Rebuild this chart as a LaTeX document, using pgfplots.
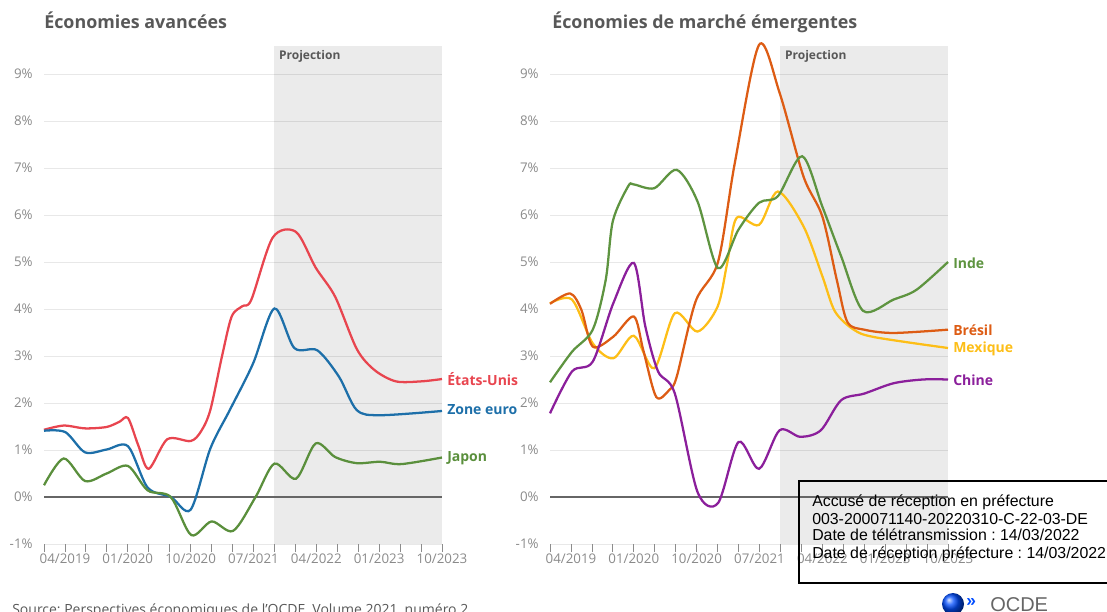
\documentclass[border=0pt]{standalone}
\usepackage{fontspec}
\setmainfont{Open Sans}
\newfontfamily\arial{Liberation Sans}
\usepackage{pgfplots}
\pgfplotsset{compat=1.18}

\definecolor{usred}{HTML}{E8454F}
\definecolor{eublue}{HTML}{1D6FA9}
\definecolor{jpgreen}{HTML}{5A8F3C}
\definecolor{ingreen}{HTML}{5E9440}
\definecolor{brorange}{HTML}{DD5C14}
\definecolor{mxyellow}{HTML}{FDBE17}
\definecolor{cnpurple}{HTML}{8B1F9B}
\definecolor{txtgray}{HTML}{585858}
\definecolor{tickgray}{HTML}{8A8A8A}

% 1 px of the reference = 0.75pt
\pgfplotsset{oecd/.style={
  scale only axis, width=298.5pt, height=373.65pt,
  xmin=0, xmax=19, ymin=-1, ymax=9.6,
  axis line style={draw=none},
  ytick={-1,0,...,9},
  yticklabel={\pgfmathprintnumber{\tick}\%},
  ymajorgrids, grid style={black!9, line width=0.6pt},
  xtick={0,...,19},
  xticklabels={,04/2019,,,01/2020,,,10/2020,,,07/2021,,,04/2022,,,01/2023,,,10/2023},
  xtick pos=bottom, ytick pos=left,
  tick align=outside, major tick length=6pt,
  xtick style={draw=black!45, line width=0.6pt},
  ytick style={draw=none},
  tick label style={font=\fontsize{10}{11}\selectfont, text=tickgray},
  yticklabel style={xshift=1pt},
  xticklabel style={yshift=2pt},
  /pgf/number format/assume math mode=true,
  clip=false,
  every axis plot/.append style={line width=1.7pt, smooth, tension=0.5, no markers},
}}

\begin{document}
\frenchspacing
\begin{tikzpicture}
\useasboundingbox (0,0) rectangle (830.25pt,458.25pt);

% ---------- left panel ----------
\begin{axis}[oecd, at={(33pt,50.25pt)}, anchor=south west]
\fill[black, opacity=0.08] (axis cs:11,-1) rectangle (axis cs:19,9.6);
\draw[black!60, line width=1pt] (axis cs:0,0) -- (axis cs:19,0);
\node[anchor=north west, text=txtgray, font=\fontsize{9}{10}\selectfont\bfseries] at (axis cs:11,9.6) {Projection};
\addplot[usred] coordinates {(0,1.43) (0.94,1.52) (1.96,1.46) (2.99,1.49) (3.6,1.6) (4.01,1.68) (4.5,1.1) (5.0,0.6) (5.89,1.23) (7.0,1.19) (7.5,1.4) (7.94,1.85) (8.5,3.0) (8.96,3.84) (9.47,4.06) (9.9,4.2) (10.92,5.52) (12.03,5.64) (12.97,4.88) (13.9,4.26) (14.93,3.15) (15.78,2.70) (16.8,2.46) (18.0,2.46) (19,2.51)};
\addplot[eublue] coordinates {(0,1.41) (1.02,1.38) (1.96,0.95) (2.99,1.01) (4.01,1.08) (4.95,0.2) (6.06,0.0) (7.0,-0.27) (7.94,1.03) (8.87,1.85) (9.98,2.84) (11.0,4.01) (11.95,3.17) (13.05,3.12) (14.08,2.56) (14.93,1.85) (16.04,1.74) (19,1.83)};
\addplot[jpgreen] coordinates {(0,0.25) (0.94,0.82) (1.96,0.34) (2.99,0.50) (4.01,0.66) (4.95,0.14) (6.05,0.0) (7.03,-0.81) (8.0,-0.52) (9.03,-0.72) (10.1,0.0) (11,0.71) (12.03,0.39) (12.97,1.14) (13.9,0.85) (14.93,0.72) (16.04,0.75) (17.06,0.70) (19,0.84)};
\end{axis}

% ---------- right panel ----------
\begin{axis}[oecd, at={(412.5pt,50.25pt)}, anchor=south west]
\fill[black, opacity=0.08] (axis cs:11,-1) rectangle (axis cs:19,9.6);
\draw[black!60, line width=1pt] (axis cs:0,0) -- (axis cs:19,0);
\node[anchor=north west, text=txtgray, font=\fontsize{9}{10}\selectfont\bfseries] at (axis cs:11,9.6) {Projection};
\addplot[mxyellow] coordinates {(0,4.12) (1.05,4.2) (2.04,3.27) (3.02,2.95) (4.0,3.43) (4.98,2.74) (5.96,3.91) (7.04,3.52) (8.0,4.05) (8.46,4.98) (8.91,5.94) (9.98,5.79) (10.88,6.5) (12.1,5.76) (13,4.7) (13.6,3.95) (14.5,3.56) (15.5,3.40) (19,3.17)};
\addplot[brorange] coordinates {(0,4.11) (0.96,4.33) (1.5,3.98) (2.04,3.20) (3.02,3.41) (4.0,3.84) (4.45,3.13) (5.07,2.13) (5.7,2.28) (6.05,2.56) (6.95,4.16) (8.02,5.0) (8.82,7.1) (9.98,9.62) (10.96,8.6) (12.1,6.82) (13.0,5.97) (13.7,4.6) (14.2,3.72) (15.0,3.56) (16.4,3.49) (19,3.56)};
\addplot[ingreen] coordinates {(0,2.44) (1.05,3.09) (2.04,3.56) (2.66,4.62) (3.0,5.87) (3.73,6.61) (4.0,6.65) (4.98,6.57) (6.05,6.96) (7.04,6.29) (8.02,4.87) (9.0,5.69) (9.98,6.26) (10.88,6.40) (12.04,7.25) (13.0,6.18) (13.9,5.12) (14.95,3.96) (16.4,4.20) (17.5,4.41) (19,5.0)};
\addplot[cnpurple] coordinates {(0,1.78) (1.05,2.67) (2.04,2.88) (3.02,4.12) (4.0,4.98) (4.55,3.63) (5.16,2.67) (5.96,2.2) (7.04,0.11) (8.02,-0.13) (9.0,1.17) (9.98,0.6) (10.96,1.42) (11.95,1.28) (12.93,1.42) (13.9,2.06) (15.0,2.2) (16.4,2.42) (17.8,2.5) (19,2.5)};
\end{axis}

\begin{scope}[x=0.75pt, y=0.75pt]
% titles
\node[anchor=base west, inner sep=0, text=txtgray, font=\fontsize{13.4}{15}\selectfont\bfseries] at (44,582) {Économies avancées};
\node[anchor=base west, inner sep=0, text=txtgray, font=\fontsize{13.4}{15}\selectfont\bfseries] at (552,582) {Économies de marché émergentes};
% series labels
\begin{scope}[font=\fontsize{10.5}{12}\selectfont\bfseries]
\node[anchor=west, inner sep=0, text=usred] at (447,232) {États-Unis};
\node[anchor=west, inner sep=0, text=eublue] at (447,201) {Zone euro};
\node[anchor=west, inner sep=0, text=jpgreen] at (447,153) {Japon};
\node[anchor=west, inner sep=0, text=ingreen] at (953,348) {Inde};
\node[anchor=west, inner sep=0, text=brorange] at (953,281) {Brésil};
\node[anchor=west, inner sep=0, text=mxyellow] at (953,262) {Mexique};
\node[anchor=west, inner sep=0, text=cnpurple] at (953,231) {Chine};
\end{scope}
% source
\node[anchor=base west, inner sep=0, text=txtgray, font=\fontsize{10.5}{12}\selectfont] at (12,-3) {Source: Perspectives économiques de l’OCDE, Volume 2021, numéro 2};
% stamp
\draw[black, line width=0.8pt] (799,130) rectangle (1114,28);
\begin{scope}[font=\arial\fontsize{11.9}{14}\selectfont]
\node[anchor=base west, inner sep=0] at (812,104) {Accusé de réception en préfecture};
\node[anchor=base west, inner sep=0] at (812,87) {003-200071140-20220310-C-22-03-DE};
\node[anchor=base west, inner sep=0] at (812,70) {Date de télétransmission : 14/03/2022};
\node[anchor=base west, inner sep=0] at (812,53) {Date de réception préfecture : 14/03/2022};
\end{scope}
% logo
\shade[ball color=blue!70!cyan] (953,7) circle (11);
\node[anchor=west, inner sep=0, text=blue!70!cyan, font=\arial\fontsize{13}{14}\selectfont\bfseries] at (966,8) {»};
\node[anchor=base west, inner sep=0, text=black!60, font=\arial\fontsize{15}{16}\selectfont] at (990,0) {OCDE};
\end{scope}
\end{tikzpicture}
\end{document}
